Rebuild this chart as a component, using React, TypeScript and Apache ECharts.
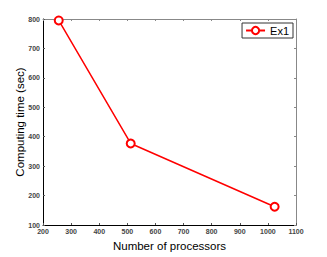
import React, { useEffect, useRef } from "react";
import * as echarts from "echarts";

const processors = [256, 512, 1024];
const computingTime = [795, 377, 162];
const seriesName = "Ex1";
const xTitle = "Number of processors";
const yTitle = "Computing time (sec)";

export default function App() {
  const ref = useRef<HTMLDivElement>(null);
  useEffect(() => {
    if (!ref.current) return;
    const chart = echarts.init(ref.current, undefined, { renderer: "svg" });
    const tickLabel = {
      fontSize: 7,
      fontWeight: "bold" as const,
      color: "#444",
      fontFamily: "Liberation Sans, Arial, sans-serif",
      formatter: (v: number) => String(v),
    };
    const titleStyle = {
      fontSize: 11.5,
      color: "#000",
      fontFamily: "Liberation Sans, Arial, sans-serif",
    };
    chart.setOption({
      animation: false,
      backgroundColor: "#fff",
      grid: { left: 43, right: 31, top: 19, bottom: 29, containLabel: false },
      legend: {
        data: [seriesName],
        right: 34,
        top: 23,
        borderColor: "#333",
        borderWidth: 1,
        padding: [2, 4, 2, 3],
        itemWidth: 19,
        itemHeight: 9,
        itemGap: 2,
        textStyle: { fontSize: 11, color: "#000", fontFamily: "Liberation Sans, Arial, sans-serif" },
      },
      xAxis: [
        {
          type: "value",
          min: 200,
          max: 1100,
          interval: 100,
          name: xTitle,
          nameLocation: "middle",
          nameGap: 15,
          nameMoveOverlap: false,
          nameTextStyle: titleStyle,
          axisLine: { show: true, lineStyle: { color: "#000", width: 1 } },
          axisTick: { show: true, inside: true, length: 2, lineStyle: { color: "#555" } },
          axisLabel: { ...tickLabel, margin: 3, showMaxLabel: true, showMinLabel: true },
          splitLine: { show: false },
        },
        {
          type: "value",
          position: "top",
          min: 200,
          max: 1100,
          interval: 100,
          axisLine: { show: true, lineStyle: { color: "#888", width: 1 } },
          axisTick: { show: true, inside: true, length: 2, lineStyle: { color: "#888" } },
          axisLabel: { show: false },
          splitLine: { show: false },
        },
      ],
      yAxis: [
        {
          type: "value",
          min: 100,
          max: 800,
          interval: 100,
          name: yTitle,
          nameLocation: "middle",
          nameGap: 17,
          nameMoveOverlap: false,
          nameTextStyle: titleStyle,
          axisLine: { show: true, lineStyle: { color: "#000", width: 1 } },
          axisTick: { show: true, inside: true, length: 2, lineStyle: { color: "#555" } },
          axisLabel: { ...tickLabel, margin: 3 },
          splitLine: { show: false },
        },
        {
          type: "value",
          position: "right",
          min: 100,
          max: 800,
          interval: 100,
          axisLine: { show: true, lineStyle: { color: "#888", width: 1 } },
          axisTick: { show: true, inside: true, length: 2, lineStyle: { color: "#888" } },
          axisLabel: { show: false },
          splitLine: { show: false },
        },
      ],
      series: [
        {
          name: seriesName,
          type: "line",
          xAxisIndex: 0,
          yAxisIndex: 0,
          data: processors.map((p, i) => [p, computingTime[i]]),
          symbol: "emptyCircle",
          symbolSize: 8,
          showAllSymbol: true,
          lineStyle: { color: "#ff0000", width: 1.5 },
          itemStyle: { color: "#ff0000", borderColor: "#ff0000", borderWidth: 1.5 },
        },
      ],
    });
    return () => chart.dispose();
  }, []);
  return (
    <div
      ref={ref}
      style={{ position: "fixed", left: 0, top: 0, width: 327, height: 257 }}
    />
  );
}
